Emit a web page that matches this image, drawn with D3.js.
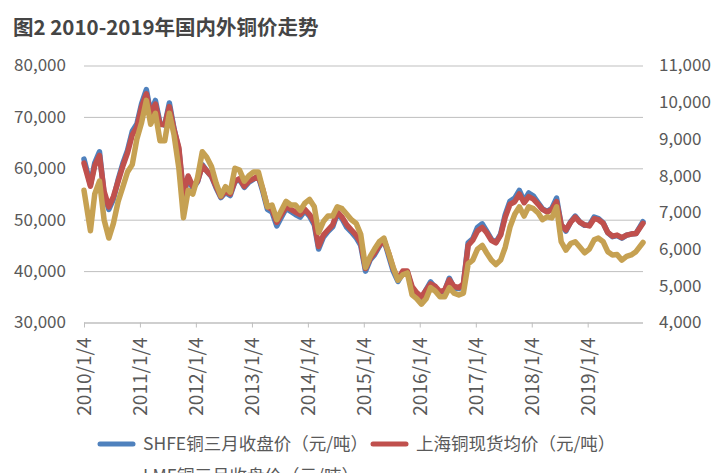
<!DOCTYPE html>
<html><head><meta charset="utf-8">
<script src="https://cdn.jsdelivr.net/npm/d3@7"></script>
<style>
body{margin:0;background:#fff;}
svg{display:block;font-family:"Noto Sans CJK SC","Noto Sans",sans-serif;}
</style></head>
<body><svg id="c" width="720" height="473"></svg>
<script>
// ---- data (monthly readings) ----
const title = "图2 2010-2019年国内外铜价走势";
const seriesNames = ["SHFE铜三月收盘价（元/吨）", "上海铜现货均价（元/吨）", "LME铜三月收盘价（元/吨）"];
const xTickLabels = ["2010/1/4","2011/1/4","2012/1/4","2013/1/4","2014/1/4","2015/1/4","2016/1/4","2017/1/4","2018/1/4","2019/1/4"];
const leftTicks = [30000,40000,50000,60000,70000,80000];
const rightTicks = [4000,5000,6000,7000,8000,9000,10000,11000];

// SHFE copper 3M close (CNY/t)
const shfe = [
 61800,56800,61000,63200,55000,52000,54000,57800,61000,63500,67200,68600,
 72600,75300,70800,73200,68800,68400,72700,67600,63600,54600,58300,56000,
 57400,60700,59500,58400,56200,54300,55300,54700,57400,57800,56300,57300,
 57900,58400,55600,52000,51500,48800,50500,52200,51600,51000,50500,51700,
 50700,49000,44300,46600,47700,48600,51200,50200,48500,47600,46500,45000,
 40000,42200,43200,44800,46200,43000,40000,38000,39600,39800,36600,35400,
 34700,36400,37900,36800,35700,36200,38600,36700,36600,37400,45500,46300,
 48500,49200,47800,46200,45600,47200,51000,53600,54200,55700,53600,55200,
 54600,53300,52100,51600,52200,54200,49000,47800,49600,50700,49500,48900,
 48900,50500,50200,49400,47500,46700,46900,46400,47000,47200,47300,49600
];
// Shanghai spot average (CNY/t)
const spot = [
 61000,56500,60500,62500,55500,52500,54500,57500,60500,63000,66500,68000,
 72000,74500,70500,72500,68500,68500,72000,67500,64000,55000,58500,56500,
 57500,60500,59500,58500,56500,54500,55500,55000,57500,58000,56500,57500,
 58000,58500,56000,52500,52000,49500,51000,52500,52000,51500,51000,52000,
 51000,49500,44800,47000,48000,49000,51500,50500,49000,48000,47000,45500,
 40500,42500,43500,45000,46000,43500,40500,38500,40000,40000,37000,35800,
 35000,36300,37500,37000,36000,36300,38300,37000,36800,37500,45000,46000,
 47800,48500,47500,46000,45500,47000,50500,53000,53500,55000,53300,54500,
 54000,53000,52000,51500,52000,53500,49000,48000,49500,50500,49500,49000,
 48800,50200,50000,49300,47500,46800,47000,46500,47000,47200,47300,49300
];
// LME copper 3M close (USD/t), right axis
const lme = [
 7600,6500,7500,7850,6800,6300,6700,7300,7700,8100,8300,9000,
 9450,10050,9400,9700,8950,8950,9700,9100,8200,6850,7600,7500,
 7950,8650,8500,8250,7800,7450,7700,7550,8200,8150,7850,8000,
 8100,8100,7650,7150,7200,6800,7050,7300,7200,7200,7050,7250,
 7350,7150,6450,6750,6900,6900,7150,7100,6950,6800,6700,6400,
 5500,5800,6000,6200,6300,5900,5500,5150,5300,5350,4750,4650,
 4500,4650,4950,4850,4700,4700,4950,4800,4750,4800,5600,5700,
 6000,6100,5900,5700,5580,5700,6050,6600,6950,7150,6900,7150,
 7100,6980,6800,6880,6850,7150,6200,5970,6150,6200,6050,5900,
 6000,6250,6300,6200,5930,5840,5850,5700,5800,5840,5930,6180
];

// month dates: mid-month, first/last pinned to the axis range
const startDate = new Date(Date.UTC(2010,0,4));
const endDate = new Date(Date.UTC(2019,11,31));
const dates = d3.range(shfe.length).map(i => {
  if (i === 0) return startDate;
  if (i === shfe.length - 1) return endDate;
  return new Date(Date.UTC(2010, i, 15));
});
const tickDates = xTickLabels.map(s => { const [y,m,d] = s.split("/").map(Number); return new Date(Date.UTC(y,m-1,d)); });

const colors = ["#4F81BD", "#C0504D", "#C6A152"];

const svg = d3.select("#c");
svg.append("rect").attr("width",720).attr("height",473).attr("fill","#fff");

const L = 84, R = 643, T = 65.5, B = 322.5;
const x = d3.scaleUtc().domain([startDate, endDate]).range([L, R]);
const yL = d3.scaleLinear().domain([30000, 80000]).range([B, T]);
const yR = d3.scaleLinear().domain([4000, 11000]).range([B, T]);

// title
svg.append("text").attr("x", 13).attr("y", 35).attr("font-size", 20.5).attr("font-weight", 700)
  .attr("fill", "#454545").text(title);

// gridlines
const grid = svg.append("g").attr("transform", `translate(${L},0)`)
  .call(d3.axisLeft(yL).tickValues(leftTicks).tickSize(-(R - L)).tickFormat(""));
grid.select(".domain").remove();
grid.selectAll("line").attr("stroke", "#BFBFBF").attr("stroke-width", 1);

// left labels
const ax1 = svg.append("g").attr("transform", `translate(${L},0)`)
  .call(d3.axisLeft(yL).tickValues(leftTicks).tickSize(0).tickPadding(18).tickFormat(d3.format(",")));
ax1.select(".domain").remove();
ax1.selectAll("text").attr("font-size", 17).attr("fill", "#595959").attr("font-family", "'Noto Sans CJK SC'");

// right labels
const ax2 = svg.append("g").attr("transform", `translate(${R},0)`)
  .call(d3.axisRight(yR).tickValues(rightTicks).tickSize(0).tickPadding(16).tickFormat(d3.format(",")));
ax2.select(".domain").remove();
ax2.selectAll("text").attr("font-size", 17).attr("fill", "#595959").attr("font-family", "'Noto Sans CJK SC'");

// bottom axis
const ax3 = svg.append("g").attr("transform", `translate(0,${B})`)
  .call(d3.axisBottom(x).tickValues(tickDates).tickSize(5).tickFormat((d,i) => xTickLabels[i]));
ax3.select(".domain").attr("stroke", "#BFBFBF").attr("d", `M${L},0.5H${R}`);
ax3.selectAll(".tick line").attr("stroke", "#BFBFBF");
ax3.selectAll("text").attr("font-size", 19).attr("fill", "#595959").attr("font-family", "'Noto Sans CJK SC'")
  .attr("text-anchor", "end").attr("transform", "rotate(-90)")
  .attr("x", -15).attr("y", 0).attr("dy", "0.35em");

// lines
const lineL = ys => d3.line().x((d,i) => x(dates[i])).y(d => ys(d)).curve(d3.curveLinear);
const seriesList = [
  {vals: shfe, scale: yL, color: colors[0]},
  {vals: spot, scale: yL, color: colors[1]},
  {vals: lme,  scale: yR, color: colors[2]}
];
seriesList.forEach(s => {
  svg.append("path").datum(s.vals).attr("d", lineL(s.scale)).attr("fill", "none")
    .attr("stroke", s.color).attr("stroke-width", 5.5).attr("stroke-linejoin", "round").attr("stroke-linecap", "round");
});

// legend
const legendPos = [[100, 444], [373, 444], [100, 476]];
seriesNames.forEach((n, i) => {
  const [lx, ly] = legendPos[i];
  const g = svg.append("g");
  g.append("line").attr("x1", lx).attr("x2", lx + 33).attr("y1", ly).attr("y2", ly)
    .attr("stroke", colors[i]).attr("stroke-width", 5).attr("stroke-linecap", "round");
  g.append("text").attr("x", lx + 43).attr("y", ly).attr("dy", "0.35em").attr("font-size", 17.5)
    .attr("fill", "#595959").text(n);
});
</script></body></html>
